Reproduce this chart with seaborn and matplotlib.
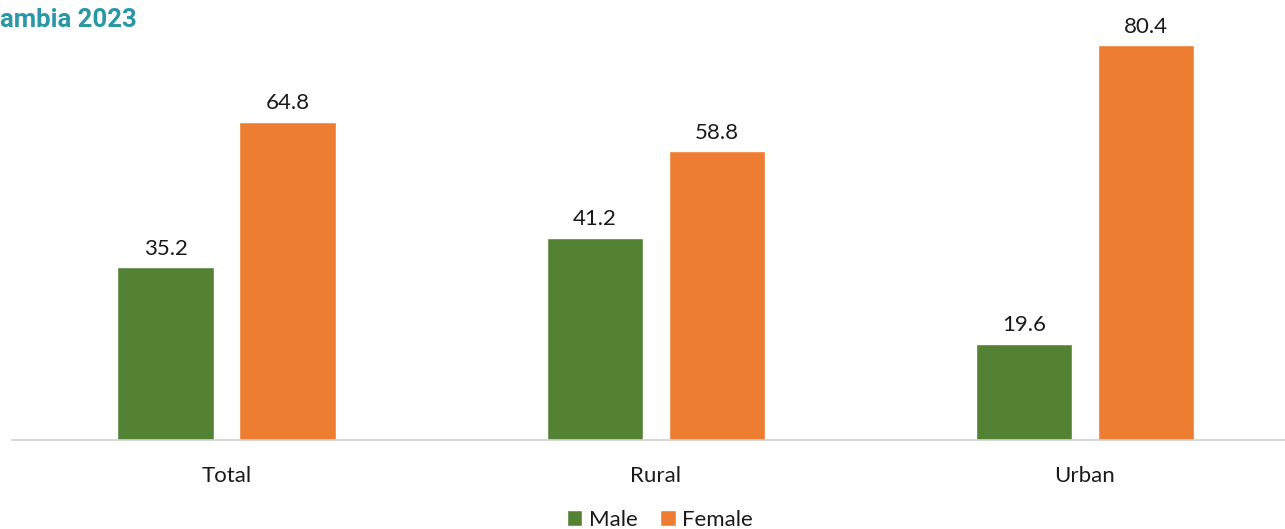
import matplotlib
matplotlib.use("Agg")
import matplotlib.pyplot as plt
import seaborn as sns
import pandas as pd

categories = ["Total", "Rural", "Urban"]
series = ["Male", "Female"]
male = [35.2, 41.2, 19.6]
female = [64.8, 58.8, 80.4]
title_text = "ambia 2023"

df = pd.DataFrame({
    "area": categories * 2,
    "sex": [series[0]] * 3 + [series[1]] * 3,
    "value": male + female,
})

sns.set_theme(style="white")
plt.rcParams["font.family"] = ["Lato", "DejaVu Sans"]

W, H = 1285, 529
fig = plt.figure(figsize=(W / 100, H / 100), dpi=100)
ymax = 88
px_per_unit = 395 / 80.4
ax_h = ymax * px_per_unit
ax = fig.add_axes([12 / W, 89 / H, (1299.5 - 12) / W, ax_h / H])

sns.barplot(data=df, x="area", y="value", hue="sex", order=categories,
            hue_order=series, palette=["#548235", "#ED7D31"],
            width=0.569, gap=0.211, ax=ax, legend=False, saturation=1)

for cont in ax.containers:
    ax.bar_label(cont, fmt="%.1f", padding=6, fontsize=16, color="#1a1a1a")

ax.set_ylim(0, ymax)
ax.set_xlim(-0.5, 2.5)
ax.set_xlabel("")
ax.set_ylabel("")
ax.set_yticks([])
for s in ["top", "right", "left"]:
    ax.spines[s].set_visible(False)
ax.spines["bottom"].set_color("#d0d0d0")
ax.spines["bottom"].set_linewidth(1.2)
ax.tick_params(axis="x", length=0, pad=19, labelsize=16, labelcolor="#1a1a1a")

from matplotlib.patches import Patch
handles = [Patch(facecolor="#548235"), Patch(facecolor="#ED7D31")]
fig.legend(handles, series, loc="center", bbox_to_anchor=(660 / W, 1 - 520 / H),
           ncol=2, frameon=False, fontsize=16, handlelength=0.7, handleheight=0.7,
           handletextpad=0.3, columnspacing=1.0, labelcolor="#1a1a1a",
           borderpad=0.2)

fig.text(0 / W, 1 - 20 / H, title_text, fontsize=18.5, fontweight="bold",
         color="#2a97a6", ha="left", va="center", family=["Roboto", "DejaVu Sans"])

fig.savefig("out.png", dpi=100)
